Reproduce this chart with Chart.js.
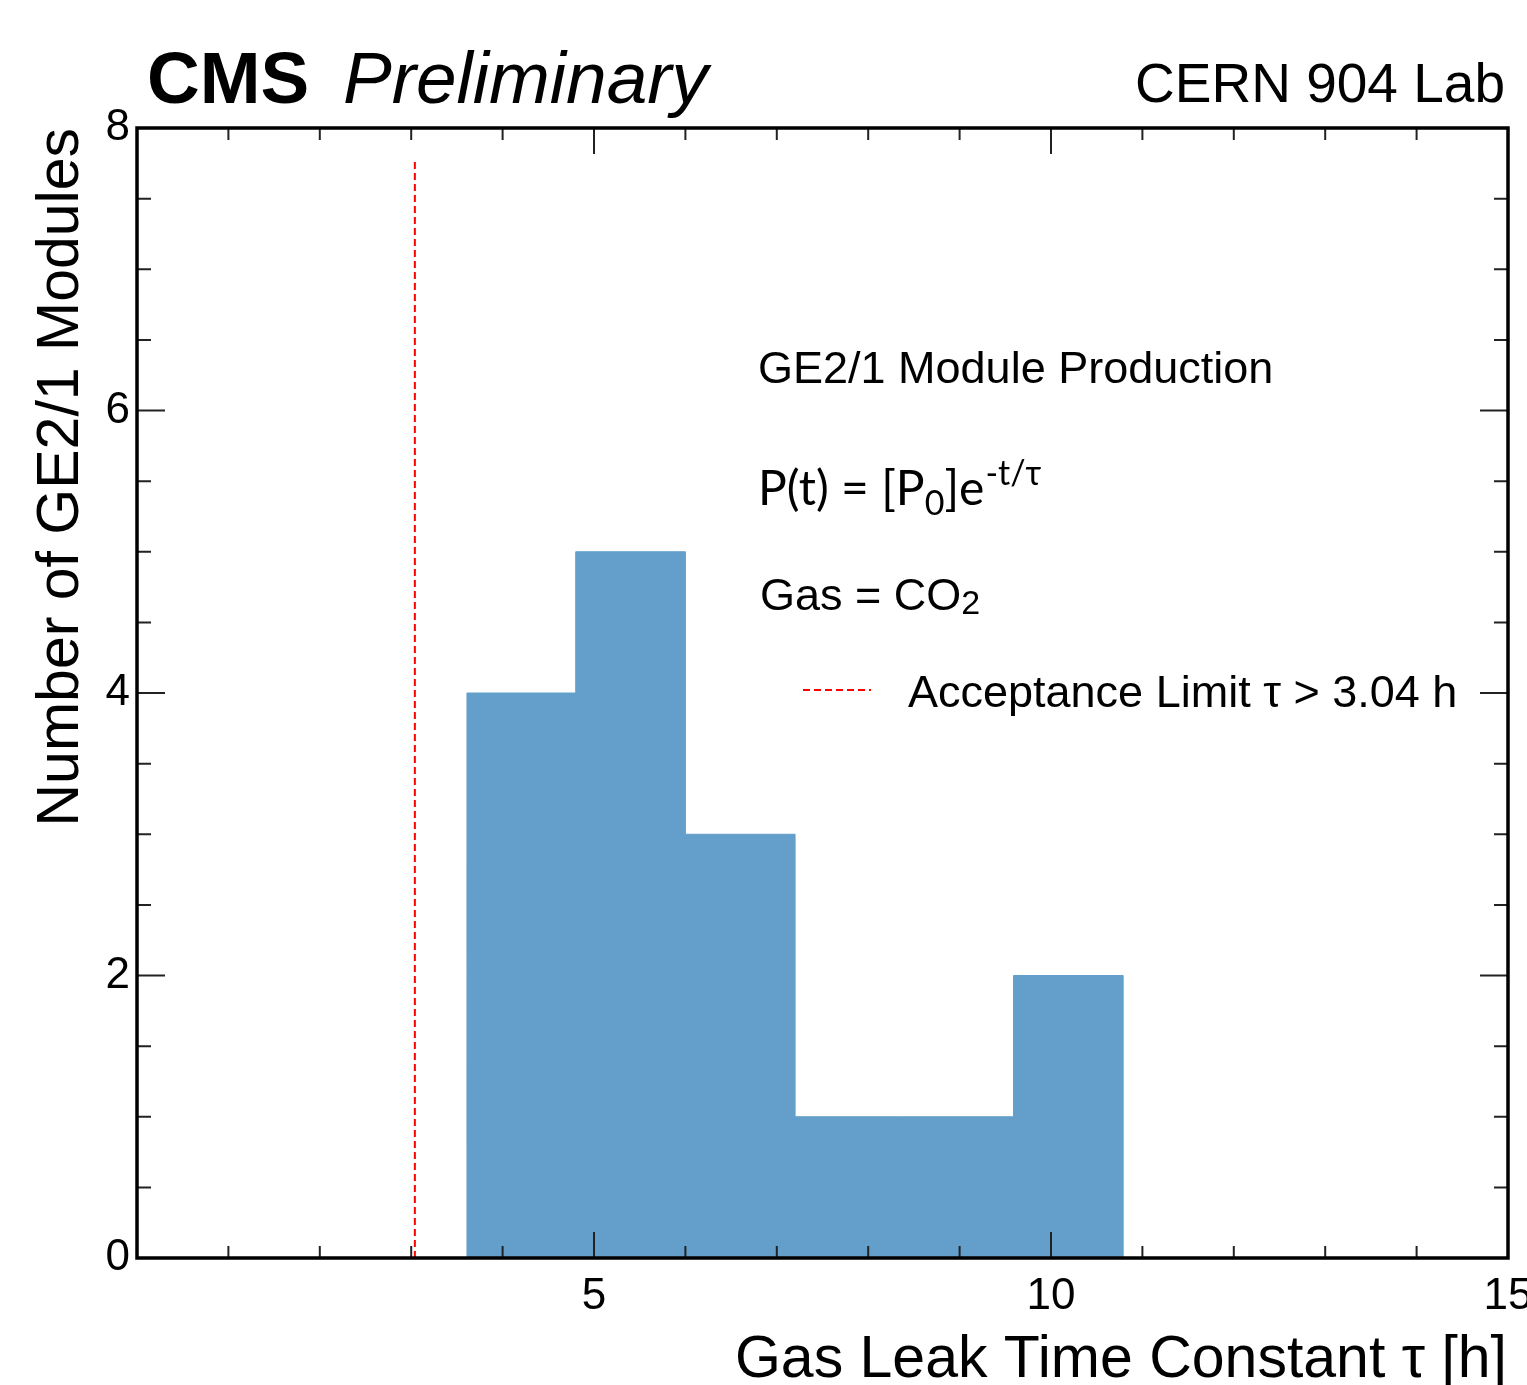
<!DOCTYPE html>
<html lang="en">
<head>
    <meta charset="UTF-8">
    <title>GE2/1 gas leak time constant</title>
    <script src="https://cdn.jsdelivr.net/npm/chart.js"></script>
    <style>
        body {
            margin: 0;
            padding: 0;
            background: white;
        }
        #wrap {
            width: 1527px;
            height: 1385px;
        }
    </style>
</head>
<body>
<div id="wrap">
    <canvas id="leakChart" width="1527" height="1385"></canvas>
</div>

<script>
    // histogram of tau values (bin edges in hours, modules per bin)
    const binEdges = [3.61, 4.80, 6.00, 7.20, 8.39, 9.59, 10.79];
    const moduleCounts = [4, 5, 3, 1, 1, 2];

    // acceptance limit line
    const acceptanceLimit = 3.04;
    const limitLineTop = 7.78;

    // axis ranges and labelled ticks
    const xRange = [0, 15];
    const yRange = [0, 8];
    const xTickValues = [5, 10, 15];
    const yTickValues = [0, 2, 4, 6, 8];

    const sans = "'Liberation Sans', Arial, Helvetica, sans-serif";

    // stepped outline: start at 0, one point per bin, back to 0
    const histPoints = [{x: binEdges[0], y: 0}];
    moduleCounts.forEach(function (c, i) {
        histPoints.push({x: binEdges[i], y: c});
    });
    histPoints.push({x: binEdges[binEdges.length - 1], y: 0});

    const limitPoints = [
        {x: acceptanceLimit, y: 0},
        {x: acceptanceLimit, y: limitLineTop}
    ];

    // frame, inward ticks and all the ROOT style texts
    const rootDecor = {
        id: 'rootDecor',
        beforeDraw(chart) {
            const ctx = chart.ctx;
            ctx.save();
            ctx.fillStyle = 'white';
            ctx.fillRect(0, 0, chart.width, chart.height);
            ctx.restore();
        },
        afterDraw(chart) {
            const ctx = chart.ctx;
            const a = chart.chartArea;
            const xs = chart.scales.x;
            const ys = chart.scales.y;
            ctx.save();

            // ticks
            ctx.strokeStyle = '#222';
            ctx.lineWidth = 2;
            ctx.beginPath();
            for (let v = 1; v < 15; v++) {
                const px = xs.getPixelForValue(v);
                const len = (v % 5 === 0) ? 26 : 12;
                ctx.moveTo(px, a.bottom);
                ctx.lineTo(px, a.bottom - len);
                ctx.moveTo(px, a.top);
                ctx.lineTo(px, a.top + len);
            }
            for (let v = 0.5; v < 8; v += 0.5) {
                const py = ys.getPixelForValue(v);
                const len = (v % 2 === 0) ? 28 : 14;
                ctx.moveTo(a.left, py);
                ctx.lineTo(a.left + len, py);
                ctx.moveTo(a.right, py);
                ctx.lineTo(a.right - len, py);
            }
            ctx.stroke();

            // frame
            ctx.strokeStyle = '#000';
            ctx.lineWidth = 3.5;
            ctx.strokeRect(a.left, a.top, a.right - a.left, a.bottom - a.top);

            ctx.fillStyle = '#000';
            ctx.textBaseline = 'alphabetic';

            // header
            ctx.textAlign = 'left';
            ctx.font = 'bold 73px ' + sans;
            ctx.fillText('CMS', 147, 103);
            ctx.font = 'italic 73px ' + sans;
            ctx.fillText('Preliminary', 343, 103);
            ctx.textAlign = 'right';
            ctx.font = '55px ' + sans;
            ctx.fillText('CERN 904 Lab', 1505, 102);

            // axis titles
            ctx.font = '59px ' + sans;
            ctx.fillText('Gas Leak Time Constant \u03c4 [h]', 1507, 1377);
            ctx.save();
            ctx.translate(78, a.top);
            ctx.rotate(-Math.PI / 2);
            ctx.textAlign = 'right';
            ctx.font = '59px ' + sans;
            ctx.fillText('Number of GE2/1 Modules', 0, 0);
            ctx.restore();

            // annotations
            ctx.textAlign = 'left';
            ctx.font = '45px ' + sans;
            ctx.fillText('GE2/1 Module Production', 758, 383);

            // P(t) = [P0]e^-t/tau
            let x = 758;
            const base = 505;
            const calib = "Lato, 'Open Sans', sans-serif";
            ctx.font = '48px ' + calib;
            ctx.fillText('P(t) = [P', x, base);
            x += ctx.measureText('P(t) = [P').width;
            ctx.font = '34px ' + calib;
            ctx.fillText('0', x, base + 10);
            x += ctx.measureText('0').width;
            ctx.font = '48px ' + calib;
            ctx.fillText(']e', x, base);
            x += ctx.measureText(']e').width;
            ctx.font = '34px ' + calib;
            ctx.fillText('-t/\u03c4', x + 1, base - 20);

            // Gas = CO2
            x = 760;
            ctx.font = '45px ' + sans;
            ctx.fillText('Gas = CO', x, 610);
            x += ctx.measureText('Gas = CO').width;
            ctx.font = '34px ' + sans;
            ctx.fillText('2', x, 614);

            // legend entry
            ctx.strokeStyle = 'red';
            ctx.lineWidth = 2;
            ctx.setLineDash([7, 4]);
            ctx.beginPath();
            ctx.moveTo(803, 690);
            ctx.lineTo(871, 690);
            ctx.stroke();
            ctx.setLineDash([]);
            ctx.font = '45px ' + sans;
            ctx.fillText('Acceptance Limit \u03c4 > 3.04 h', 908, 707);

            ctx.restore();
        }
    };

    new Chart(document.getElementById('leakChart'), {
        type: 'line',
        data: {
            datasets: [{
                label: 'GE2/1 modules',
                data: histPoints,
                stepped: 'before',
                fill: 'origin',
                backgroundColor: '#639fca',
                borderColor: '#639fca',
                borderWidth: 1,
                pointRadius: 0,
                tension: 0
            }, {
                label: 'Acceptance Limit',
                data: limitPoints,
                fill: false,
                borderColor: 'red',
                borderWidth: 2,
                borderDash: [7, 4],
                pointRadius: 0
            }]
        },
        options: {
            responsive: false,
            animation: false,
            events: [],
            layout: {
                autoPadding: false,
                padding: {top: 128, right: 19, left: 0, bottom: 0}
            },
            plugins: {
                legend: {display: false},
                tooltip: {enabled: false},
                title: {display: false}
            },
            scales: {
                x: {
                    type: 'linear',
                    min: xRange[0],
                    max: xRange[1],
                    afterBuildTicks: function (s) {
                        s.ticks = xTickValues.map(v => ({value: v}));
                    },
                    afterFit: function (s) {
                        s.height = 127;
                        s.paddingLeft = 0;
                        s.paddingRight = 0;
                    },
                    grid: {display: false, drawTicks: false},
                    border: {display: false},
                    ticks: {
                        color: '#000',
                        font: {family: sans, size: 44},
                        padding: 12,
                        maxRotation: 0,
                        autoSkip: false
                    }
                },
                y: {
                    min: yRange[0],
                    max: yRange[1],
                    afterBuildTicks: function (s) {
                        s.ticks = yTickValues.map(v => ({value: v}));
                    },
                    afterFit: function (s) {
                        s.width = 137;
                        s.paddingTop = 0;
                        s.paddingBottom = 0;
                    },
                    grid: {display: false, drawTicks: false},
                    border: {display: false},
                    ticks: {
                        color: '#000',
                        font: {family: sans, size: 44},
                        padding: 7
                    }
                }
            }
        },
        plugins: [rootDecor]
    });
</script>
</body>
</html>
